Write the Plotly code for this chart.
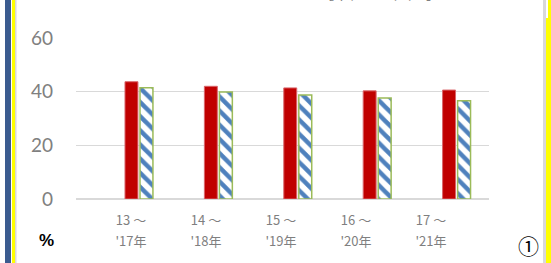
import plotly.graph_objects as go

# ---- data ----
cat_line1 = ["13 ～", "14 ～", "15 ～", "16 ～", "17 ～"]
cat_line2 = ["'17年", "'18年", "'19年", "'20年", "'21年"]
series_a = [43.7, 42.0, 41.4, 40.3, 40.6]
series_b = [41.5, 39.9, 38.8, 37.6, 36.6]
y_ticks = [0, 20, 40, 60]

W, H = 551, 263
L, R, T, B = 76, 62, 38, 64
PW, PH = W - L - R, H - T - B

def px(x):
    return (x - L) / PW

def py(y):
    return (H - B - y) / PH

idx = list(range(len(cat_line1)))

fig = go.Figure()
fig.add_trace(go.Bar(
    x=idx, y=series_a, width=0.163, offset=-0.176,
    marker=dict(color="#C00000", line=dict(color="#D9666B", width=1)),
    showlegend=False, hoverinfo="skip"))
fig.add_trace(go.Bar(
    x=idx, y=series_b, width=0.163, offset=0.013,
    marker=dict(color="white", line=dict(color="#9BBB59", width=1.5),
                pattern=dict(shape="\\", fgcolor="#4F81BD", fgopacity=1,
                             bgcolor="white", size=10, solidity=0.45,
                             fillmode="replace")),
    showlegend=False, hoverinfo="skip"))
# invisible carriers for label axes
fig.add_trace(go.Scatter(x=idx, y=[0]*5, xaxis="x2", mode="markers",
                         marker=dict(opacity=0), showlegend=False, hoverinfo="skip"))
fig.add_trace(go.Scatter(x=idx, y=[0]*5, xaxis="x3", mode="markers",
                         marker=dict(opacity=0), showlegend=False, hoverinfo="skip"))

lab_range = [-0.733, -0.733 + PW / 75]
lab_font = dict(family="Noto Sans CJK JP", size=13, color="#7F7F7F")

fig.update_layout(
    width=W, height=H,
    margin=dict(l=L, r=R, t=T, b=B, pad=0),
    paper_bgcolor="white", plot_bgcolor="white",
    barmode="overlay",
    xaxis=dict(range=[-0.793, -0.793 + PW / 79.4], showticklabels=False,
               showgrid=False, zeroline=False, ticks=""),
    xaxis2=dict(range=lab_range, overlaying="x", side="bottom", anchor="y",
                tickmode="array", tickvals=idx, ticktext=cat_line1,
                showgrid=False, zeroline=False, ticks="", tickfont=lab_font,
                ticklabelstandoff=12),
    xaxis3=dict(range=lab_range, overlaying="x", side="bottom", anchor="y",
                tickmode="array", tickvals=idx, ticktext=cat_line2,
                showgrid=False, zeroline=False, ticks="", tickfont=lab_font,
                ticklabelstandoff=33),
    yaxis=dict(range=[0, 60], tickvals=y_ticks, showgrid=True,
               gridcolor="#D9D9D9", gridwidth=1.5, zeroline=True,
               zerolinecolor="#D9D9D9", zerolinewidth=1.5,
               tickfont=dict(family="Lato", size=19, color="#808080"),
               ticklabelstandoff=22, ticks=""),
    font=dict(family="Lato"),
)

shapes = [
    dict(type="rect", xref="paper", yref="paper", x0=px(5), x1=px(11),
         y0=py(H), y1=py(0), fillcolor="#3B5B8F", line_width=0, layer="above"),
    dict(type="rect", xref="paper", yref="paper", x0=px(12), x1=px(15),
         y0=py(H), y1=py(0), fillcolor="#FFFF00", line_width=0, layer="above"),
    dict(type="rect", xref="paper", yref="paper", x0=px(15), x1=px(16.5),
         y0=py(H), y1=py(0), fillcolor="#D9D9D9", line_width=0, layer="above"),
    dict(type="rect", xref="paper", yref="paper", x0=px(543), x1=px(546),
         y0=py(H), y1=py(0), fillcolor="#D9D9D9", line_width=0, layer="above"),
    dict(type="rect", xref="paper", yref="paper", x0=px(546), x1=px(551),
         y0=py(H), y1=py(18), fillcolor="#FFFF00", line_width=0, layer="above"),
    dict(type="rect", xref="paper", yref="paper", x0=px(548), x1=px(551),
         y0=py(18), y1=py(0), fillcolor="#FFFF00", line_width=0, layer="above"),
]
fig.update_layout(shapes=shapes)

fig.add_annotation(text="<b>%</b>", xref="paper", yref="paper", x=px(46), y=py(240),
                   showarrow=False, font=dict(family="Liberation Sans", size=17,
                                              color="black"),
                   xanchor="center", yanchor="middle")
fig.add_annotation(text="①", xref="paper", yref="paper", x=px(528), y=py(245),
                   showarrow=False, font=dict(family="Noto Sans CJK JP", size=21,
                                              color="black"),
                   xanchor="center", yanchor="middle")
fig.add_annotation(text="［単位：5年平均・%］", xref="paper", yref="paper",
                   x=px(317), y=py(5), showarrow=False,
                   font=dict(family="Noto Sans CJK JP", size=15, color="#808080"),
                   xanchor="left", yanchor="bottom")

fig.write_html("out.html",
               config={"displayModeBar": False, "staticPlot": True},
               post_script="document.body.style.margin='0';"
                           "document.body.style.overflow='hidden';")
